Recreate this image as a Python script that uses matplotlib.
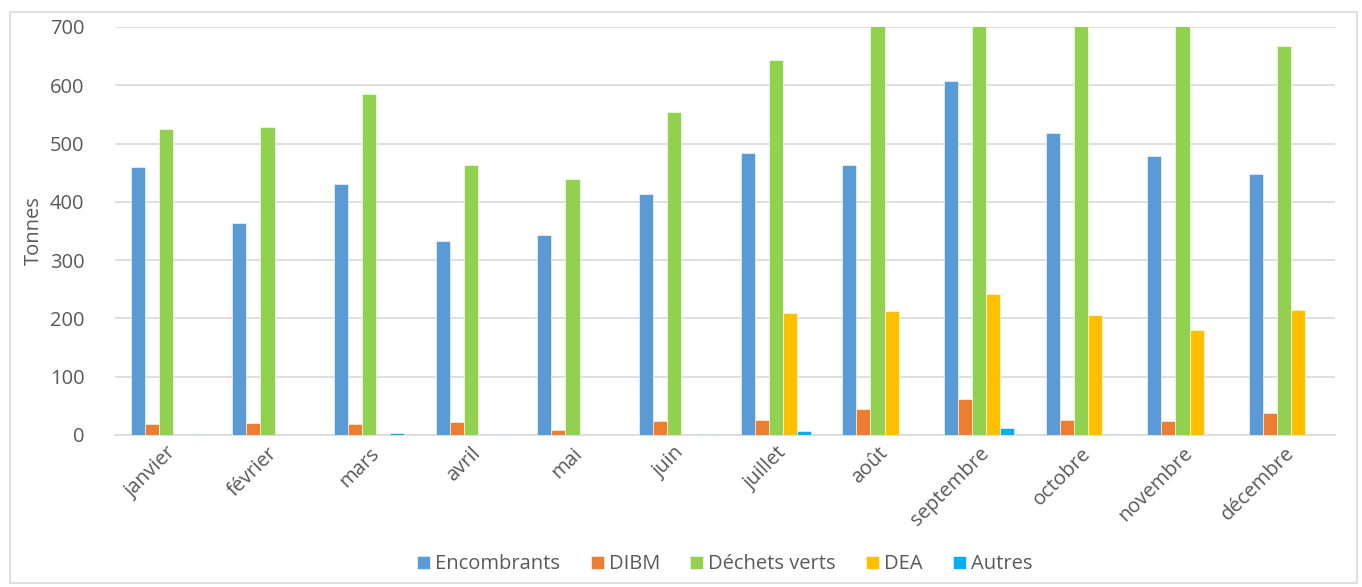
import numpy as np
import matplotlib
matplotlib.use("Agg")
import matplotlib.pyplot as plt
from matplotlib.patches import Rectangle

months = ["janvier", "février", "mars", "avril", "mai", "juin", "juillet",
          "août", "septembre", "octobre", "novembre", "décembre"]
series_names = ["Encombrants", "DIBM", "Déchets verts", "DEA", "Autres"]
encombrants = [460, 363, 430, 332, 343, 413, 483, 463, 607, 518, 478, 447]
dibm = [19, 21, 19, 22, 9, 24, 25, 45, 62, 26, 24, 38]
dechets_verts = [525, 529, 585, 463, 440, 555, 644, 760, 800, 740, 730, 667]
dea = [0, 0, 0, 0, 0, 0, 209, 212, 242, 206, 181, 214]
autres = [1, 0, 4, 1, 0, 1, 7, 0, 12, 2, 0, 0]
series = [encombrants, dibm, dechets_verts, dea, autres]
palette = ["#5B9BD5", "#ED7D31", "#92D050", "#FFC000", "#00B0F0"]

plt.rcParams["font.family"] = ["Open Sans", "DejaVu Sans"]
txt = "#595959"

fig = plt.figure(figsize=(13.62, 5.87), dpi=100)
ax = fig.add_axes([115 / 1362, 1 - 435 / 587, 1220 / 1362, 408 / 587])

x = np.arange(len(months))
w = 0.138
for i, (name, vals, col) in enumerate(zip(series_names, series, palette)):
    ax.bar(x + (i - 2) * w, vals, width=w, color=col, label=name,
           edgecolor="white", linewidth=0.4, zorder=3)

ax.set_xlim(-0.5, len(months) - 0.5)
ax.set_ylim(0, 700)
ax.set_yticks(range(0, 701, 100))
ax.grid(axis="y", color="#D9D9D9", linewidth=1.2, zorder=0)
for s in ["top", "right", "left"]:
    ax.spines[s].set_visible(False)
ax.spines["bottom"].set_color("#D9D9D9")
ax.spines["bottom"].set_linewidth(1.2)
ax.tick_params(axis="both", length=0, colors=txt, labelsize=14.5)
ax.tick_params(axis="y", pad=22)
ax.tick_params(axis="x", pad=6)
ax.set_xticks(x)
ax.set_xticklabels(months, rotation=45, ha="right", rotation_mode="anchor")
ax.set_ylabel("Tonnes", color=txt, fontsize=14.5, labelpad=4)

leg = ax.legend(loc="upper center", bbox_to_anchor=(0.5, -0.248), ncol=5,
                frameon=False, fontsize=14.5, handlelength=0.65, handleheight=0.65,
                handletextpad=0.25, columnspacing=1.5)
for t in leg.get_texts():
    t.set_color(txt)

fig.patches.append(Rectangle((10 / 1362, 4 / 587), 1347 / 1362, 571 / 587,
                             transform=fig.transFigure, fill=False,
                             edgecolor="#D9D9D9", linewidth=1.2))

fig.savefig("out.png", dpi=100)
